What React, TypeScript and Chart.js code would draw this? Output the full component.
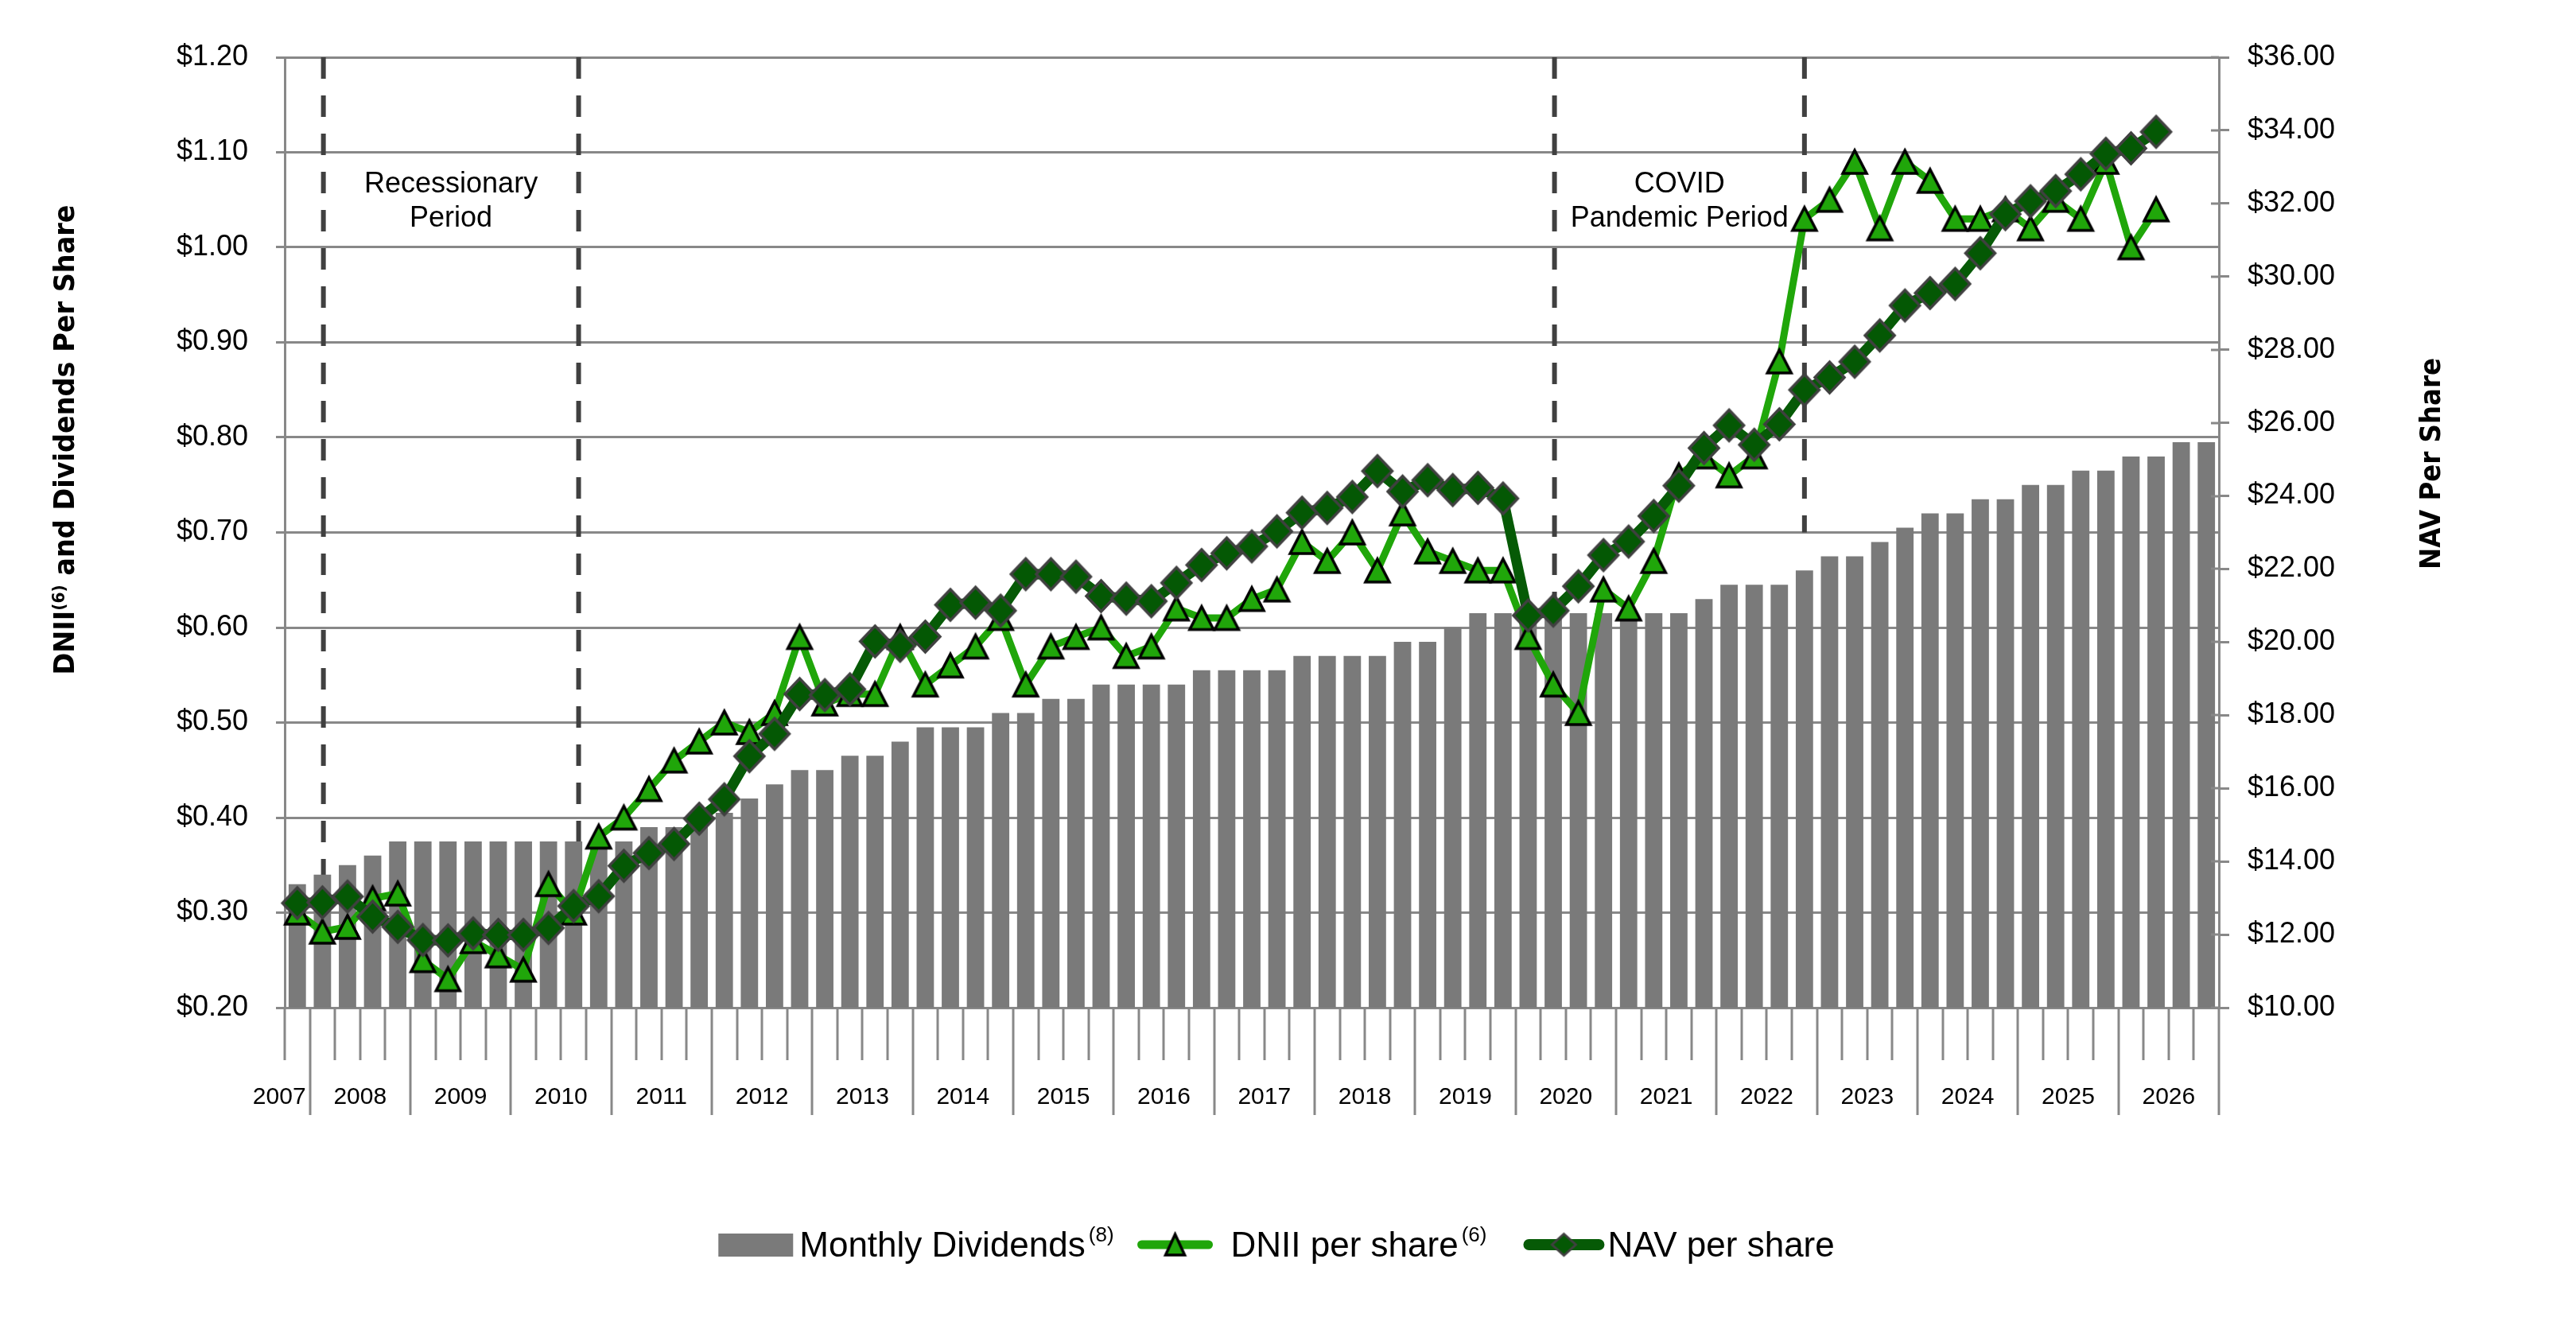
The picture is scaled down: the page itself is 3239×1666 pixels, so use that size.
import { useEffect, useRef } from 'react';
import { Chart, registerables } from 'chart.js';

Chart.register(...registerables);

const W = 3239;
const H = 1666;
const FONT = '"Liberation Sans", Arial, sans-serif';
const TITLE_FONT = '"DejaVu Sans", Verdana, sans-serif';

const GRID = '#888888';
const BAR = '#7a7a7a';
const DNII_GREEN = '#20a60a';
const NAV_GREEN = '#065a06';
const NAV_FILL = '#045804';
const NAV_EDGE = '#404040';

// years on the x axis and how many quarters each one shows
const YEARS = ['2007', '2008', '2009', '2010', '2011', '2012', '2013', '2014', '2015', '2016',
  '2017', '2018', '2019', '2020', '2021', '2022', '2023', '2024', '2025', '2026'];
const QUARTERS_PER_YEAR = [1, 4, 4, 4, 4, 4, 4, 4, 4, 4, 4, 4, 4, 4, 4, 4, 4, 4, 4, 4];

const QUARTERS = YEARS.flatMap((yr, i) =>
  Array.from({ length: QUARTERS_PER_YEAR[i] }, (_, k) => `Q${i === 0 ? 4 : k + 1} ${yr}`));

// quarterly monthly-dividend rate (left axis)
const DIVIDENDS = [
  0.33,
  0.34, 0.35, 0.36, 0.375,
  0.375, 0.375, 0.375, 0.375,
  0.375, 0.375, 0.375, 0.375,
  0.375, 0.39, 0.39, 0.39,
  0.405, 0.42, 0.435, 0.45,
  0.45, 0.465, 0.465, 0.48,
  0.495, 0.495, 0.495, 0.51,
  0.51, 0.525, 0.525, 0.54,
  0.54, 0.54, 0.54, 0.555,
  0.555, 0.555, 0.555, 0.57,
  0.57, 0.57, 0.57, 0.585,
  0.585, 0.6, 0.615, 0.615,
  0.615, 0.615, 0.615, 0.615,
  0.615, 0.615, 0.615, 0.63,
  0.645, 0.645, 0.645, 0.66,
  0.675, 0.675, 0.69, 0.705,
  0.72, 0.72, 0.735, 0.735,
  0.75, 0.75, 0.765, 0.765,
  0.78, 0.78, 0.795, 0.795,
];

// DNII per share (left axis)
const DNII = [
  0.30,
  0.28, 0.285, 0.315, 0.32,
  0.25, 0.23, 0.27, 0.255,
  0.24, 0.33, 0.30, 0.38,
  0.40, 0.43, 0.46, 0.48,
  0.50, 0.49, 0.51, 0.59,
  0.52, 0.53, 0.53, 0.59,
  0.54, 0.56, 0.58, 0.61,
  0.54, 0.58, 0.59, 0.60,
  0.57, 0.58, 0.62, 0.61,
  0.61, 0.63, 0.64, 0.69,
  0.67, 0.70, 0.66, 0.72,
  0.68, 0.67, 0.66, 0.66,
  0.59, 0.54, 0.51, 0.64,
  0.62, 0.67, 0.76, 0.78,
  0.76, 0.78, 0.88, 1.03,
  1.05, 1.09, 1.02, 1.09,
  1.07, 1.03, 1.03, 1.04,
  1.02, 1.05, 1.03, 1.09,
  1.00, 1.04,
];

// NAV per share (right axis)
const NAV = [
  12.86,
  12.88, 13.04, 12.49, 12.21,
  11.85, 11.84, 12.03, 11.99,
  11.99, 12.18, 12.78, 13.05,
  13.88, 14.23, 14.48, 15.17,
  15.70, 16.88, 17.49, 18.58,
  18.55, 18.71, 20.02, 19.90,
  20.15, 21.02, 21.08, 20.86,
  21.86, 21.86, 21.79, 21.26,
  21.19, 21.12, 21.62, 22.11,
  22.43, 22.62, 23.03, 23.54,
  23.67, 23.97, 24.68, 24.12,
  24.43, 24.16, 24.22, 23.93,
  20.73, 20.86, 21.53, 22.38,
  22.75, 23.45, 24.28, 25.31,
  25.93, 25.40, 25.96, 26.90,
  27.24, 27.67, 28.39, 29.21,
  29.55, 29.80, 30.64, 31.71,
  32.06, 32.34, 32.80, 33.36,
  33.51, 33.96,
];

const LEFT_MIN = 0.2;
const LEFT_MAX = 1.2;
const LEFT_STEP = 0.1;
const RIGHT_MIN = 10;
const RIGHT_MAX = 36;
const RIGHT_STEP = 2;

// dashed period markers, in category units (x) and left-axis units (lower end)
const PERIOD_LINES = [
  { at: 1.04, down: 0.2 },
  { at: 11.2, down: 0.2 },
  { at: 50.05, down: 0.2 },
  { at: 60.0, down: 0.7 },
];
const PERIOD_LABELS = [
  { from: 1.04, to: 11.2, lines: ['Recessionary', 'Period'] },
  { from: 50.05, to: 60.0, lines: ['COVID', 'Pandemic Period'] },
];

function triangleMarker(w: number, h: number, lw: number) {
  const pad = Math.ceil(lw * 1.6);
  const c = document.createElement('canvas');
  c.width = Math.ceil(w + 2 * pad);
  c.height = Math.ceil(h + 2 * pad);
  const g = c.getContext('2d')!;
  g.beginPath();
  g.moveTo(c.width / 2, pad);
  g.lineTo(pad + w, pad + h);
  g.lineTo(pad, pad + h);
  g.closePath();
  g.fillStyle = DNII_GREEN;
  g.fill();
  g.lineWidth = lw;
  g.strokeStyle = '#000';
  g.stroke();
  return c;
}

function diamondMarker(w: number, h: number, lw: number) {
  const pad = Math.ceil(lw * 1.2);
  const c = document.createElement('canvas');
  c.width = Math.ceil(w + 2 * pad);
  c.height = Math.ceil(h + 2 * pad);
  const g = c.getContext('2d')!;
  const cx = c.width / 2;
  const cy = c.height / 2;
  g.beginPath();
  g.moveTo(cx, cy - h / 2);
  g.lineTo(cx + w / 2, cy);
  g.lineTo(cx, cy + h / 2);
  g.lineTo(cx - w / 2, cy);
  g.closePath();
  g.fillStyle = NAV_FILL;
  g.fill();
  g.lineWidth = lw;
  g.strokeStyle = NAV_EDGE;
  g.stroke();
  return c;
}

const periodPlugin = {
  id: 'periods',
  beforeDatasetsDraw(chart: any) {
    const { ctx, chartArea, scales } = chart;
    const x = scales.x;
    const y = scales.y;
    ctx.save();
    ctx.strokeStyle = '#404040';
    ctx.lineWidth = 6;
    ctx.setLineDash([27, 21]);
    PERIOD_LINES.forEach((m) => {
      const px = x.getPixelForValue(m.at);
      ctx.beginPath();
      ctx.moveTo(px, chartArea.top);
      ctx.lineTo(px, y.getPixelForValue(m.down));
      ctx.stroke();
    });
    ctx.setLineDash([]);
    ctx.fillStyle = '#000';
    ctx.font = `36px ${FONT}`;
    ctx.textAlign = 'center';
    ctx.textBaseline = 'middle';
    PERIOD_LABELS.forEach((p) => {
      const cx = (x.getPixelForValue(p.from) + x.getPixelForValue(p.to)) / 2;
      p.lines.forEach((t, k) => ctx.fillText(t, cx, chartArea.top + 160 + k * 43));
    });
    ctx.restore();
  },
  afterDatasetsDraw(chart: any) {
    // inner half of the right axis tick marks
    const { ctx, chartArea, scales } = chart;
    const r = scales.y2;
    ctx.save();
    ctx.strokeStyle = GRID;
    ctx.lineWidth = 3;
    r.ticks.forEach((t: any) => {
      const py = Math.round(r.getPixelForValue(t.value));
      ctx.beginPath();
      ctx.moveTo(chartArea.right - 10, py);
      ctx.lineTo(chartArea.right, py);
      ctx.stroke();
    });
    ctx.restore();
  },
};

const yearAxisPlugin = {
  id: 'yearAxis',
  afterDraw(chart: any) {
    const { ctx, chartArea, scales } = chart;
    const x = scales.x;
    const bottom = chartArea.bottom;
    const yearEnds = new Set<number>();
    let acc = 0;
    QUARTERS_PER_YEAR.forEach((q) => {
      acc += q;
      yearEnds.add(acc);
    });
    ctx.save();
    ctx.strokeStyle = GRID;
    ctx.lineWidth = 3;
    for (let b = 0; b <= QUARTERS.length; b++) {
      const px = Math.round(x.getPixelForValue(b - 0.5));
      ctx.beginPath();
      ctx.moveTo(px, bottom);
      ctx.lineTo(px, bottom + (yearEnds.has(b) ? 135 : 66));
      ctx.stroke();
    }
    ctx.fillStyle = '#000';
    ctx.font = `30px ${FONT}`;
    ctx.textBaseline = 'middle';
    let start = 0;
    YEARS.forEach((yr, i) => {
      const end = start + QUARTERS_PER_YEAR[i];
      const left = x.getPixelForValue(start - 0.5);
      const right = x.getPixelForValue(end - 0.5);
      const w = ctx.measureText(yr).width;
      if (w > right - left - 6) {
        ctx.textAlign = 'right';
        ctx.fillText(yr, right - 5, bottom + 113);
      } else {
        ctx.textAlign = 'center';
        ctx.fillText(yr, (left + right) / 2, bottom + 113);
      }
      start = end;
    });
    ctx.restore();
  },
};

function drawVerticalTitle(ctx: CanvasRenderingContext2D, parts: [string, boolean][], baseX: number, centerY: number, length: number) {
  const main = `bold 35px ${TITLE_FONT}`;
  const sup = `bold 21px ${TITLE_FONT}`;
  ctx.save();
  let total = 0;
  const widths = parts.map(([t, s]) => {
    ctx.font = s ? sup : main;
    const w = ctx.measureText(t).width;
    total += w;
    return w;
  });
  ctx.translate(baseX, centerY);
  ctx.rotate(-Math.PI / 2);
  ctx.scale(length / total, 1);
  ctx.fillStyle = '#000';
  ctx.textAlign = 'left';
  ctx.textBaseline = 'alphabetic';
  let u = -total / 2;
  parts.forEach(([t, s], i) => {
    ctx.font = s ? sup : main;
    ctx.fillText(t, u, s ? -12 : 0);
    u += widths[i];
  });
  ctx.restore();
}

const titlePlugin = {
  id: 'axisTitles',
  afterDraw(chart: any) {
    const { ctx } = chart;
    drawVerticalTitle(ctx, [['DNII', false], ['(6)', true], [' and Dividends Per Share', false]], 93, 553, 591);
    drawVerticalTitle(ctx, [['NAV Per Share', false]], 3068, 583, 266);
  },
};

function makeLegendPlugin(legendTri: HTMLCanvasElement, legendDia: HTMLCanvasElement) {
  return {
    id: 'legendRow',
    afterDraw(chart: any) {
      const { ctx } = chart;
      const main = `44px ${FONT}`;
      const sup = `26px ${FONT}`;
      const items = [
        { label: 'Monthly Dividends', note: '(8)', swatch: 94, gap: 8, after: 29 },
        { label: 'DNII per share', note: '(6)', swatch: 96, gap: 22, after: 47 },
        { label: 'NAV per share', note: '', swatch: 100, gap: 5, after: 0 },
      ];
      ctx.save();
      const sizes = items.map((it) => {
        ctx.font = main;
        const tw = ctx.measureText(it.label).width;
        ctx.font = sup;
        const nw = it.note ? ctx.measureText(it.note).width + 4 : 0;
        return { tw, nw };
      });
      const total = items.reduce((s, it, i) => s + it.swatch + it.gap + sizes[i].tw + sizes[i].nw + it.after, 0);
      let x = 1605 - total / 2;
      const cy = 1565;
      items.forEach((it, i) => {
        if (i === 0) {
          ctx.fillStyle = BAR;
          ctx.fillRect(x, 1551, it.swatch, 29);
        } else {
          ctx.strokeStyle = i === 1 ? DNII_GREEN : NAV_GREEN;
          ctx.lineWidth = i === 1 ? 11 : 14;
          ctx.lineCap = 'round';
          ctx.beginPath();
          ctx.moveTo(x + 6, cy);
          ctx.lineTo(x + it.swatch - 6, cy);
          ctx.stroke();
          const img = i === 1 ? legendTri : legendDia;
          ctx.drawImage(img, x + it.swatch / 2 - img.width / 2, cy - img.height / 2);
        }
        x += it.swatch + it.gap;
        ctx.fillStyle = '#000';
        ctx.textAlign = 'left';
        ctx.textBaseline = 'alphabetic';
        ctx.font = main;
        ctx.fillText(it.label, x, 1580);
        x += sizes[i].tw;
        if (it.note) {
          ctx.font = sup;
          ctx.fillText(it.note, x + 4, 1561);
          x += sizes[i].nw;
        }
        x += it.after;
      });
      ctx.restore();
    },
  };
}

export default function App() {
  const canvasRef = useRef<HTMLCanvasElement>(null);
  const chartRef = useRef<Chart | null>(null);

  useEffect(() => {
    document.body.style.margin = '0';
    document.body.style.overflow = 'hidden';
    if (!canvasRef.current) return;
    if (chartRef.current) chartRef.current.destroy();

    const tri = triangleMarker(30, 29, 3.5);
    const dia = diamondMarker(37, 39, 3.5);
    const legendTri = triangleMarker(24, 26, 3.5);
    const legendDia = diamondMarker(30, 27, 3);

    const tickFont = { family: FONT, size: 36 };

    chartRef.current = new Chart(canvasRef.current, {
      type: 'bar',
      data: {
        labels: QUARTERS,
        datasets: [
          {
            type: 'line',
            label: 'NAV per share',
            data: NAV,
            yAxisID: 'y2',
            borderColor: NAV_GREEN,
            borderWidth: 13,
            tension: 0,
            pointStyle: dia,
            pointRadius: 20,
            pointHoverRadius: 20,
            order: 0,
          },
          {
            type: 'line',
            label: 'DNII per share',
            data: DNII,
            yAxisID: 'y',
            borderColor: DNII_GREEN,
            borderWidth: 9,
            tension: 0,
            pointStyle: tri,
            pointRadius: 18,
            pointHoverRadius: 18,
            order: 1,
          },
          {
            type: 'bar',
            label: 'Monthly Dividends',
            data: DIVIDENDS,
            yAxisID: 'y',
            backgroundColor: BAR,
            borderWidth: 0,
            barPercentage: 0.69,
            categoryPercentage: 1,
            order: 2,
          },
        ],
      } as any,
      options: {
        responsive: false,
        animation: false,
        devicePixelRatio: 1,
        layout: { padding: { left: 0, right: 0, top: 72, bottom: 399 } },
        plugins: {
          legend: { display: false },
          tooltip: { enabled: false },
        },
        scales: {
          x: {
            type: 'category',
            offset: true,
            display: false,
            grid: { offset: true },
          },
          y: {
            position: 'left',
            min: LEFT_MIN,
            max: LEFT_MAX,
            afterFit: (s: any) => {
              s.width = 358;
            },
            ticks: {
              stepSize: LEFT_STEP,
              color: '#000',
              font: tickFont,
              padding: 35,
              callback: (v: any) => '$' + Number(v).toFixed(2),
            },
            grid: { color: GRID, lineWidth: 3, tickLength: 11 },
            border: { display: true, color: GRID, width: 3 },
          },
          y2: {
            position: 'right',
            min: RIGHT_MIN,
            max: RIGHT_MAX,
            afterFit: (s: any) => {
              s.width = W - 2790;
            },
            ticks: {
              stepSize: RIGHT_STEP,
              color: '#000',
              font: tickFont,
              padding: 23,
              callback: (v: any) => '$' + Number(v).toFixed(2),
            },
            grid: { drawOnChartArea: false, color: GRID, lineWidth: 3, tickLength: 13 },
            border: { display: true, color: GRID, width: 3 },
          },
        },
      } as any,
      plugins: [periodPlugin, yearAxisPlugin, titlePlugin, makeLegendPlugin(legendTri, legendDia)],
    });

    return () => {
      if (chartRef.current) {
        chartRef.current.destroy();
        chartRef.current = null;
      }
    };
  }, []);

  return (
    <div style={{ width: W, height: H, background: '#fff' }}>
      <canvas ref={canvasRef} width={W} height={H} style={{ display: 'block', width: W, height: H }}></canvas>
    </div>
  );
}
